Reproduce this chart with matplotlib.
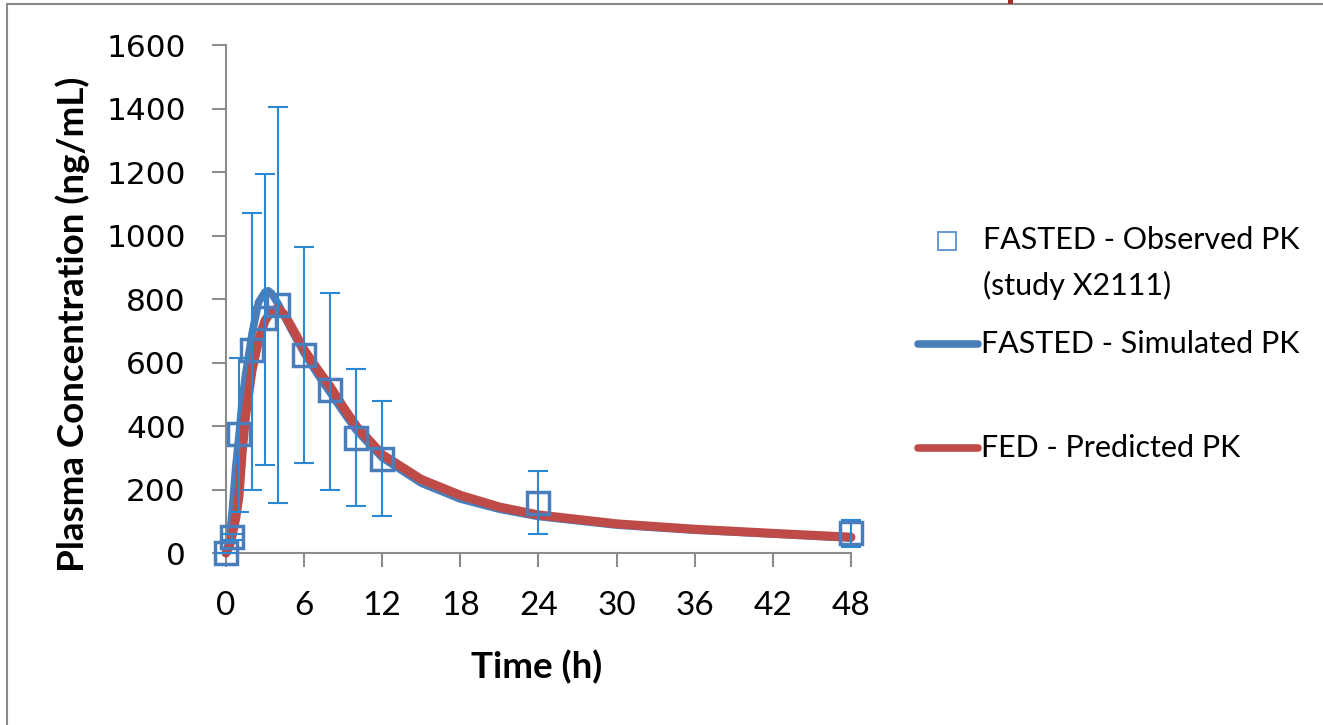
import numpy as np
import matplotlib
matplotlib.use('Agg')
import matplotlib.pyplot as plt
from matplotlib.lines import Line2D
from matplotlib.patches import Rectangle

# observed PK (fasted, study X2111)
obs_t = [0, 0.5, 1, 2, 3, 4, 6, 8, 10, 12, 24, 48]
obs_c = [0, 50, 375, 640, 739, 781, 624, 513, 363, 295, 158, 64]
err_lo = [0, 10, 245, 442, 461, 625, 342, 315, 215, 178, 99, 46]
err_hi = [0, 10, 240, 432, 454, 623, 340, 307, 217, 185, 101, 40]

# simulated fasted curve
sim_t = [0, 0.25, 0.5, 0.75, 1, 1.25, 1.5, 2, 2.5, 3, 3.25, 3.5, 4, 5, 6, 7, 8, 9, 10, 12, 15, 18, 21,
         24, 30, 36, 42, 48]
sim_c = [0, 40, 140, 270, 370, 480, 560, 690, 790, 822, 826, 818, 785, 705, 630, 565, 505, 445, 387, 300,
         220, 170, 138, 115, 88, 72, 60, 47]

# predicted fed curve
fed_t = [0, 0.25, 0.5, 0.75, 1, 1.25, 1.5, 2, 2.5, 3, 3.5, 4, 4.5, 5, 6, 7, 8, 9, 10, 12, 15, 18, 21,
         24, 30, 36, 42, 48]
fed_c = [0, 20, 60, 110, 180, 320, 430, 575, 670, 732, 762, 770, 750, 715, 640, 580, 524, 460, 400, 310,
         232, 182, 145, 120, 92, 75, 62, 50]

blue = '#4A7EBB'
red = '#BE4B48'
errc = '#2A88D5'

fig = plt.figure(figsize=(13.23, 7.25), dpi=100)
ax = fig.add_axes([0.1708, 0.2372, 0.4724, 0.7007])

ax.plot(sim_t, sim_c, color=blue, lw=5.5, solid_capstyle='round', zorder=2, clip_on=False)
ax.plot(fed_t, fed_c, color=red, lw=6.5, solid_capstyle='round', zorder=3, clip_on=False)
ax.errorbar(obs_t, obs_c, yerr=[err_lo, err_hi], fmt='none', ecolor=errc, elinewidth=1.5,
            capsize=7, capthick=1.5, zorder=4, clip_on=False)
ax.plot(obs_t, obs_c, ls='none', marker='s', ms=15.5, mfc='none', mec=blue, mew=2.5, zorder=5,
        clip_on=False)

ax.set_xlim(0, 48)
ax.set_ylim(0, 1600)
ax.set_xticks(range(0, 49, 6))
ax.set_yticks(range(0, 1601, 200))

for s in ['top', 'right']:
    ax.spines[s].set_visible(False)
for s in ['left', 'bottom']:
    ax.spines[s].set_color('#8C8C8C')
    ax.spines[s].set_linewidth(1.5)
ax.tick_params(axis='both', direction='out', length=10, width=1.5, color='#8C8C8C')
ax.tick_params(axis='y', pad=19)
ax.tick_params(axis='x', pad=17)
for lab in ax.get_yticklabels():
    lab.set_fontfamily('DejaVu Sans')
    lab.set_fontsize(22.5)
for lab in ax.get_xticklabels():
    lab.set_fontfamily('Lato')
    lab.set_fontsize(24)

ax.set_xlabel('Time (h)', fontfamily='Lato', fontweight='bold', fontsize=26.5)
ax.xaxis.set_label_coords(0.4976, -0.2244)
ax.xaxis.label.set_va('center')
ax.set_ylabel('Plasma Concentration (ng/mL)', fontfamily='Lato', fontweight='bold', fontsize=26.5)
ax.yaxis.set_label_coords(-0.2448, 0.4508)
ax.yaxis.label.set_va('center')

# legend drawn by hand
W, H = 1323, 725
fig.add_artist(Line2D([947 / W], [1 - 241 / H], marker='s', ms=13, mfc='none', mec='#5B8FD0',
                      mew=1.3, ls='none'))
fig.add_artist(Line2D([918 / W, 978 / W], [1 - 344 / H] * 2, color=blue, lw=5.5,
                      solid_capstyle='round'))
fig.add_artist(Line2D([918 / W, 978 / W], [1 - 448 / H] * 2, color=red, lw=5.5,
                      solid_capstyle='round'))
lfont = dict(fontfamily='Lato', fontsize=22, va='center', ha='left')
fig.text(983 / W, 1 - 240 / H, 'FASTED - Observed PK', **lfont)
fig.text(983 / W, 1 - 285 / H, '(study X2111)', **lfont)
fig.text(981 / W, 1 - 344 / H, 'FASTED - Simulated PK', **lfont)
fig.text(981 / W, 1 - 448 / H, 'FED - Predicted PK', **lfont)

# outer frame and small red mark at the top edge
fig.add_artist(Rectangle((7 / W, -0.1), 1.2, 1 - 4 / H + 0.1, transform=fig.transFigure,
                         fill=False, ec='#8A8A8A', lw=1.5))
fig.add_artist(Rectangle((1008 / W, 1 - 4 / H), 5 / W, 4 / H, transform=fig.transFigure,
                         fc='#A0302A', ec='none'))

fig.savefig('out.png', dpi=100)
